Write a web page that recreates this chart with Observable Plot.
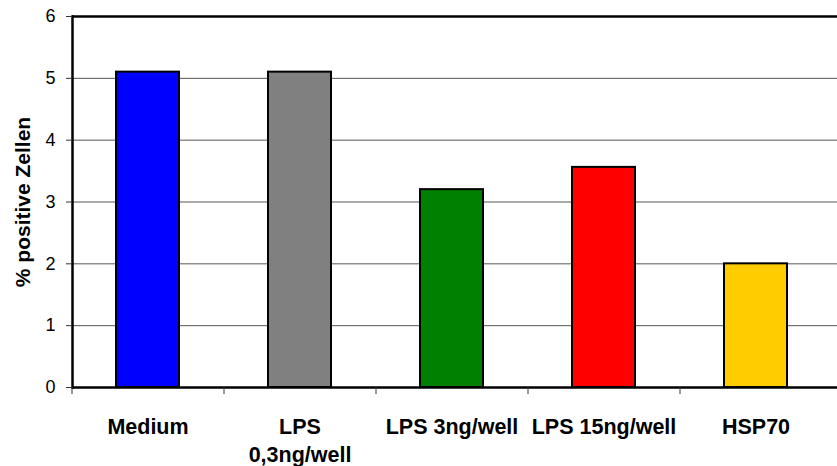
<!DOCTYPE html>
<html>
<head>
<meta charset="utf-8">
<script src="https://cdn.jsdelivr.net/npm/d3@7"></script>
<script src="https://cdn.jsdelivr.net/npm/@observablehq/plot@0.6"></script>
<style>
  html, body { margin: 0; padding: 0; background: #fff; }
  #chart svg { display: block; font-family: "Liberation Sans", Arial, sans-serif; }
</style>
</head>
<body>
<div id="chart"></div>
<script>
const categories = ["Medium", "LPS 0,3ng/well", "LPS 3ng/well", "LPS 15ng/well", "HSP70"];
const labels = ["Medium", "LPS\n0,3ng/well", "LPS 3ng/well", "LPS 15ng/well", "HSP70"];
const values = [5.1, 5.1, 3.2, 3.56, 2.0];
const colors = ["#0000FF", "#808080", "#008000", "#FF0000", "#FFCC00"];
const yTicks = [0, 1, 2, 3, 4, 5, 6];
const yLabel = "% positive Zellen";

const data = categories.map((c, i) => ({category: c, label: labels[i], value: values[i], color: colors[i]}));

const chart = Plot.plot({
  width: 837,
  height: 466,
  marginLeft: 72,
  marginRight: 0,
  marginTop: 16,
  marginBottom: 79,
  style: {fontFamily: "'Liberation Sans', Arial, sans-serif", color: "#000", background: "#fff"},
  x: {domain: categories, range: [72, 832], paddingInner: 0.585, paddingOuter: 0.2925, axis: null},
  y: {domain: [0, 6], axis: null},
  marks: [
    Plot.ruleY(yTicks.filter(t => t > 0 && t < 6), {stroke: "#555", strokeWidth: 1}),
    Plot.barY(data, {x: "category", y: "value", fill: "color", stroke: "#000", strokeWidth: 2}),
    Plot.ruleY([6], {stroke: "#000", strokeWidth: 2.5}),
    Plot.ruleY([0], {stroke: "#000", strokeWidth: 2.5}),
    Plot.frame({anchor: "left", stroke: "#000", strokeWidth: 2.5}),
    Plot.axisY({ticks: yTicks, tickFormat: d => String(d), tickSize: 6, tickPadding: 11, fontSize: 18, label: null, stroke: "#333"}),
    Plot.axisX({tickSize: 7, tickFormat: () => "", label: null, dx: -76, stroke: "#333"}),
    Plot.text(data, {x: "category", text: "label", frameAnchor: "bottom", lineAnchor: "top", dy: 26, lineHeight: 1.33, fontSize: 21.5, fontWeight: "bold", fill: "#000"}),
    Plot.text([yLabel], {frameAnchor: "left", textAnchor: "middle", rotate: -90, dx: -49, fontSize: 21, fontWeight: "bold", fill: "#000"})
  ]
});
document.getElementById("chart").append(chart);
</script>
</body>
</html>
